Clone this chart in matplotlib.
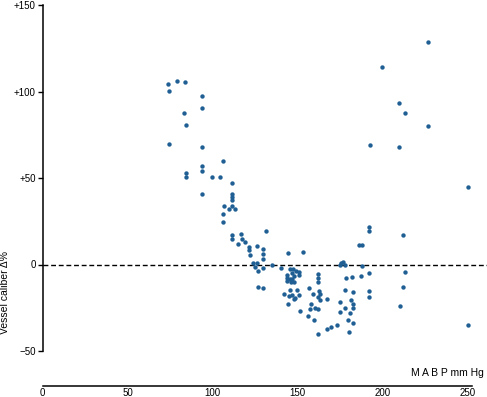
import matplotlib.pyplot as plt

plt.rcParams['font.family'] = ['Liberation Sans', 'DejaVu Sans']

# mean arterial blood pressure (mm Hg) vs vessel caliber change (%)
mabp = [
    73.5, 78.8, 83.9, 74.1, 93.7, 93.7, 83.3, 84.1, 74.1, 93.7,
    106.1, 93.9, 93.9, 84.3, 84.3, 99.4, 104.3, 111.6, 93.9, 111.4,
    111.4, 111.4, 106.7, 111.4, 109.6, 112.9, 106.3, 105.9, 111.4, 111.4,
    116.9, 117.5, 114.7, 119.0, 131.6, 121.2, 125.9, 121.4, 129.4, 121.8,
    129.4, 129.4, 144.5, 153.3, 123.9, 126.3, 124.7, 134.7, 129.6, 126.7,
    140.4, 126.5, 129.6,
    # cluster just below zero
    145.5, 147.5, 148.8, 150.8, 150.8, 143.9, 143.9, 145.3, 146.7, 147.6,
    143.9, 145.9, 147.8, 146.7,
    # middle, lower
    161.8, 161.8, 161.8, 141.8, 145.3, 149.8, 156.7, 144.7, 146.9, 148.4,
    150.6, 147.8, 159.0, 162.5, 163.0, 161.8, 163.0, 167.3, 144.5, 151.2,
    157.6, 157.1, 160.4, 161.9, 156.1, 159.6, 167.3, 169.8, 173.1, 161.9,
    # right group
    175.7, 176.7, 177.6, 174.7, 187.8, 178.2, 182.0, 187.5, 191.8, 177.6,
    182.5, 191.9, 191.9, 175.1, 181.6, 182.5, 182.5, 178.0, 174.7, 180.6,
    179.6, 182.5, 180.0, 185.9, 188.0, 191.8, 191.8, 212.0, 212.9, 212.0,
    210.0, 250.4,
    # high values
    226.9, 199.6, 209.6, 213.3, 226.9, 192.4, 209.6, 250.0,
]
caliber = [
    104.4, 106.0, 105.6, 100.2, 97.3, 90.6, 87.5, 80.5, 69.4, 67.8,
    59.7, 57.2, 53.9, 53.0, 50.3, 50.5, 50.5, 47.2, 41.0, 41.0,
    39.1, 37.2, 34.1, 34.1, 31.8, 31.8, 29.3, 24.7, 16.9, 14.5,
    17.9, 14.8, 12.1, 12.9, 19.5, 10.2, 10.6, 8.1, 8.7, 5.6,
    6.0, 3.3, 6.8, 7.3, 0.6, 0.8, -1.3, 0.0, -2.1, -4.0,
    -2.1, -13.1, -13.5,
    -2.5, -2.5, -3.9, -4.4, -6.0, -5.8, -8.0, -8.3, -8.3, -6.7,
    -9.6, -10.2, -10.2, -5.2,
    -5.4, -7.7, -10.0, -16.8, -14.8, -14.5, -13.5, -18.3, -17.9, -19.3,
    -17.5, -20.2, -17.3, -15.6, -17.3, -19.0, -20.8, -19.8, -22.7, -26.6,
    -23.1, -26.0, -25.0, -25.6, -29.9, -31.8, -37.2, -36.2, -34.7, -40.1,
    0.6, 1.3, 0.0, 0.0, -1.0, -7.7, -7.3, -6.4, -5.2, -14.8,
    -16.0, -15.4, -18.7, -21.6, -20.8, -23.1, -25.0, -25.4, -27.3, -27.9,
    -31.8, -33.7, -39.1, 11.2, 11.0, 21.8, 19.3, 17.0, -4.4, -13.1,
    -23.7, -34.7,
    128.5, 114.1, 93.5, 87.7, 80.0, 69.2, 68.0, 44.9,
]

x_ticks = [0, 50, 100, 150, 200, 250]
y_ticks = [-50, 0, 50, 100, 150]
y_labels = ['\u221250', '0', '+50', '+100', '+150']

fig = plt.figure(figsize=(4.87, 3.97), dpi=100)
ax = fig.add_axes([42.5 / 487, 46 / 397, (472 - 42.5) / 487, 346 / 397])

ax.scatter(mabp, caliber, s=10, color='#1f5f94', linewidths=0, zorder=3)
ax.axhline(0, xmin=0, xmax=1.035, color='black', lw=1,
           linestyle=(0, (3.5, 2)), clip_on=False)

ax.set_xlim(0, 252.5)
ax.set_ylim(-50, 150)

ax.spines['top'].set_visible(False)
ax.spines['right'].set_visible(False)
ax.spines['bottom'].set_position(('outward', 25))
ax.spines['left'].set_linewidth(1.1)
ax.spines['bottom'].set_linewidth(1.1)

ax.set_xticks(x_ticks)
ax.set_yticks(y_ticks)
ax.set_yticklabels(y_labels)
ax.tick_params(axis='x', length=0, pad=2, labelsize=7)
ax.tick_params(axis='y', length=3.5, width=1, pad=1.5, labelsize=7)

fig.text(5 / 487, 1 - 293 / 397, 'Vessel caliber \u0394%', rotation=90,
         ha='center', va='center', fontsize=7.5)
fig.text(484 / 487, 1 - 373 / 397, 'M A B P mm Hg', ha='right',
         va='center', fontsize=7.5)

fig.savefig('out.png', dpi=100)
